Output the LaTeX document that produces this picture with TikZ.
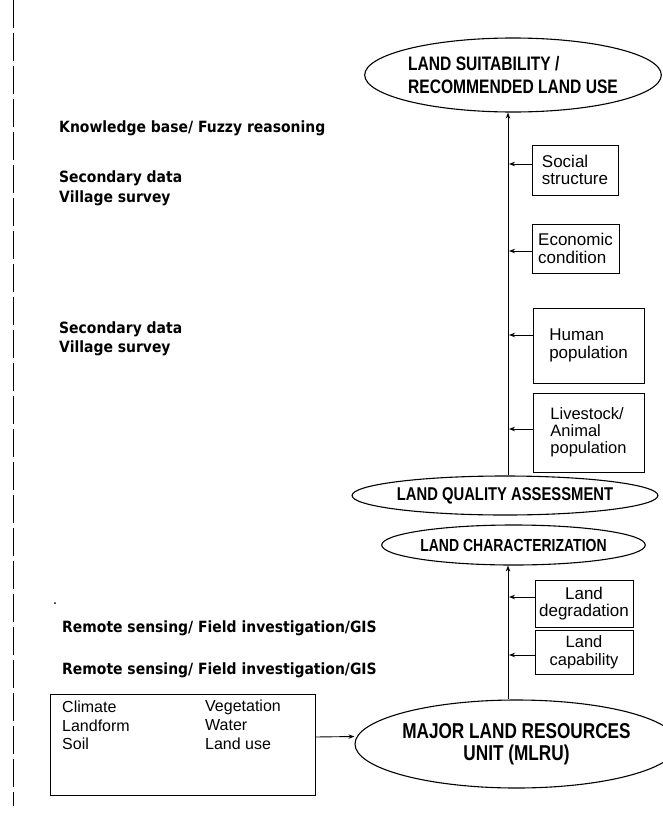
\documentclass[tikz,border=0pt]{standalone}
\usepackage{fontspec}
\setmainfont{Liberation Sans}
\newfontfamily\capsfont[FakeStretch=0.8]{Liberation Sans Bold}
\newfontfamily\handfont[FakeStretch=0.9]{DejaVu Sans Bold}
\usetikzlibrary{shapes.geometric,arrows.meta}

\begin{document}
\begin{tikzpicture}[x=1pt,y=-1pt,
  oval/.style={ellipse, draw, line width=1.1pt, inner sep=0pt, align=center},
  factor/.style={rectangle, draw, line width=0.9pt, inner sep=0pt,
    font=\fontsize{17}{17.5}\selectfont},
  item/.style={anchor=west, inner sep=0pt, font=\fontsize{16}{18}\selectfont},
  src/.style={anchor=west, inner sep=0pt, align=left,
    font=\handfont\fontsize{15.5}{19.5}\selectfont},
  feed/.style={-{Stealth[length=6pt,width=4.5pt]}, line width=0.9pt},
]
\useasboundingbox (0,0) rectangle (663,814);

% margin rule on the left
\draw[line width=0.8pt, dash pattern=on 28pt off 5pt] (13,0) -- (13,806);

% trunk of the flow
\coordinate (trunk) at (508,0);

% outcome and assessment ellipses
\node[oval, minimum width=287pt, minimum height=74pt, align=left,
  font=\capsfont\fontsize{19.5}{23}\selectfont] (top) at (513,75)
  {LAND SUITABILITY /\\RECOMMENDED LAND USE};
\node[oval, minimum width=262pt, minimum height=39pt,
  font=\capsfont\fontsize{18.5}{20}\selectfont] (lqa) at (505,495.5)
  {LAND QUALITY ASSESSMENT};
\node[oval, minimum width=247pt, minimum height=40pt,
  font=\capsfont\fontsize{17.5}{20}\selectfont] (lc) at (513.5,545)
  {LAND CHARACTERIZATION};
\node[oval, minimum width=283pt, minimum height=88pt,
  font=\capsfont\fontsize{21.5}{21.5}\selectfont] (mlru) at (516.5,744)
  {MAJOR LAND RESOURCES\\UNIT (MLRU)};

% socio-economic factors
\node[factor, minimum width=86pt, minimum height=50pt, align=left] (soc) at (575,170)
  {Social\\structure};
\node[factor, minimum width=87pt, minimum height=49pt, align=left] (eco) at (575.5,248.5)
  {Economic\\condition};
\node[factor, minimum width=111pt, minimum height=75pt, align=left] (hum) at (588.5,345.5)
  {Human\\population};
\node[factor, minimum width=111pt, minimum height=79pt, align=left,
  font=\fontsize{16.5}{17}\selectfont] (liv) at (588.5,432.5)
  {Livestock/\\Animal\\population};

% land factors
\node[factor, minimum width=98pt, minimum height=47pt, align=center] (deg) at (584,603.5)
  {Land\\degradation};
\node[factor, minimum width=98pt, minimum height=44pt, align=center,
  font=\fontsize{16.5}{18.5}\selectfont] (cap) at (584,652)
  {Land\\capability};

% resource inventory box
\node[rectangle, draw, line width=0.9pt, minimum width=265pt, minimum height=101pt]
  (res) at (182.5,744.5) {};
\node[item] (clim) at (62,707) {Climate};
\node[item] (lform) at (62,725.5) {Landform};
\node[item] (soil) at (62,744) {Soil};
\node[item] (veg) at (205,707) {Vegetation};
\node[item] (water) at (205,725.5) {Water};
\node[item] (luse) at (205,744) {Land use};

% data sources
\node[src] (kb) at (59,128) {Knowledge base/ Fuzzy reasoning};
\node[src] (sv1) at (59,188.5) {Secondary data\\Village survey};
\node[src] (sv2) at (59,339) {Secondary data\\Village survey};
\node[src] (rs1) at (62,628) {Remote sensing/ Field investigation/GIS};
\node[src] (rs2) at (62,670) {Remote sensing/ Field investigation/GIS};
\fill (55,603) circle (1pt);

% main flow
\draw[feed] ([yshift=7.5pt]res.east) -- ([yshift=7.5pt]mlru.west);
\draw[feed] (mlru.north -| trunk) -- (lc.south -| trunk);
\draw[feed] (lqa.north -| trunk) -- (top.south -| trunk);

% factor inputs
\draw[feed, shorten >=1pt] ([yshift=6pt]soc.west) -- ([yshift=6pt]soc.west -| trunk);
\draw[feed, shorten >=1pt] ([yshift=-2.5pt]eco.west) -- ([yshift=-2.5pt]eco.west -| trunk);
\draw[feed, shorten >=1pt] ([yshift=10.5pt]hum.west) -- ([yshift=10.5pt]hum.west -| trunk);
\draw[feed, shorten >=1pt] ([yshift=3.5pt]liv.west) -- ([yshift=3.5pt]liv.west -| trunk);
\draw[feed, shorten >=1pt] ([yshift=6.5pt]deg.west) -- ([yshift=6.5pt]deg.west -| trunk);
\draw[feed, shorten >=1pt] ([yshift=-3pt]cap.west) -- ([yshift=-3pt]cap.west -| trunk);
\end{tikzpicture}
\end{document}
